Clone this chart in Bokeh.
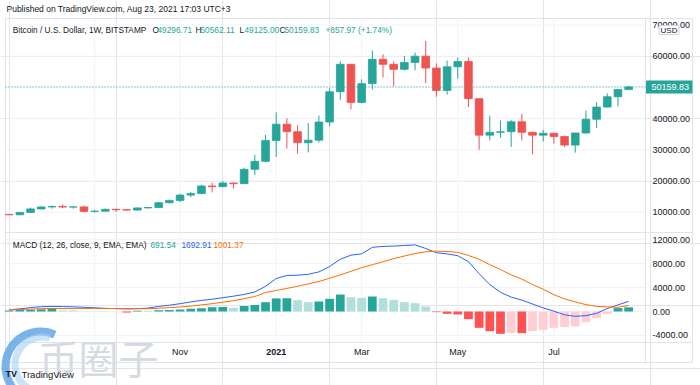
from bokeh.plotting import figure
from bokeh.models import ColumnDataSource, Range1d, Label
from bokeh.core.properties import value
from bokeh.embed import file_html
from bokeh.resources import INLINE

# ---------------- data (weekly BTC/USD, Bitstamp) ----------------
weeks = ["2020-07-13", "2020-07-20", "2020-07-27", "2020-08-03", "2020-08-10", "2020-08-17",
         "2020-08-24", "2020-08-31", "2020-09-07", "2020-09-14", "2020-09-21", "2020-09-28",
         "2020-10-05", "2020-10-12", "2020-10-19", "2020-10-26", "2020-11-02", "2020-11-09",
         "2020-11-16", "2020-11-23", "2020-11-30", "2020-12-07", "2020-12-14", "2020-12-21",
         "2020-12-28", "2021-01-04", "2021-01-11", "2021-01-18", "2021-01-25", "2021-02-01",
         "2021-02-08", "2021-02-15", "2021-02-22", "2021-03-01", "2021-03-08", "2021-03-15",
         "2021-03-22", "2021-03-29", "2021-04-05", "2021-04-12", "2021-04-19", "2021-04-26",
         "2021-05-03", "2021-05-10", "2021-05-17", "2021-05-24", "2021-05-31", "2021-06-07",
         "2021-06-14", "2021-06-21", "2021-06-28", "2021-07-05", "2021-07-12", "2021-07-19",
         "2021-07-26", "2021-08-02", "2021-08-09", "2021-08-16", "2021-08-23"]

opens = [9300, 9160, 9930, 11050, 11680, 11850, 11650, 11700, 10250, 10320, 10930, 10780,
         10670, 11380, 11500, 13040, 13780, 15480, 15970, 18400, 18190, 19370, 19150, 23730,
         26300, 33000, 38200, 35800, 32280, 33100, 38900, 48600, 57400, 45200, 51200, 59000,
         57400, 55800, 58000, 60000, 56200, 49000, 56600, 58300, 46400, 34700, 35600, 35800,
         39000, 35600, 34700, 35300, 34250, 31500, 35400, 39800, 43700, 47000, 49296.71]
highs = [9340, 9990, 11500, 11910, 12090, 12480, 11780, 12080, 10790, 11180, 11090, 10960,
         11500, 11730, 13350, 14080, 15970, 16480, 18800, 19490, 19920, 19420, 24300, 28400,
         34800, 42000, 40100, 37900, 38600, 40950, 49700, 58350, 57500, 52600, 61800, 60600,
         58400, 60100, 61200, 64900, 57700, 58600, 59600, 59600, 46500, 40900, 39400, 39500,
         41500, 35800, 36400, 35400, 34600, 35400, 42600, 45200, 48100, 49400, 50562.11]
lows = [9050, 9130, 9880, 10950, 11130, 11290, 11120, 9880, 9880, 10220, 10140, 10420,
        10550, 11210, 11420, 12800, 13220, 14850, 15800, 16330, 18000, 17600, 19000, 21900,
        26100, 27700, 30400, 28800, 29200, 32300, 37500, 46000, 43000, 44900, 49300, 53200,
        50400, 55400, 55500, 51300, 47000, 47700, 52800, 43700, 30000, 33000, 33900, 30900,
        33000, 28500, 32700, 32000, 30900, 29100, 35200, 37000, 43600, 43900, 49125.00]
closes = [9160, 9930, 11050, 11680, 11850, 11650, 11700, 10250, 10320, 10930, 10780, 10670,
          11380, 11500, 13040, 13780, 15480, 15970, 18400, 18190, 19370, 19150, 23730, 26300,
          33000, 38200, 35800, 32280, 33100, 38900, 48600, 57400, 45200, 51200, 59000, 57400,
          55800, 58000, 60000, 56200, 49000, 56600, 58300, 46400, 34700, 35600, 35800, 39000,
          35600, 34700, 35300, 34250, 31500, 35400, 39800, 43700, 47000, 49301.86, 50159.83]

macd_line = [280, 450, 650, 800, 850, 820, 780, 700, 620, 520, 480, 430, 480, 560, 850, 1050,
             1300, 1600, 1850, 2050, 2300, 2550, 2850, 3250, 4200, 5500, 6000, 6050, 6200, 6600,
             7500, 8700, 9400, 9600, 10700, 10850, 10900, 11000, 11100, 10500, 9800, 9600, 9300,
             8300, 6300, 4500, 3200, 2400, 1900, 1250, 600, 50, -550, -800, -700, -300, 500,
             1100, 1692.91]
signal_line = [280, 330, 400, 470, 500, 500, 510, 520, 520, 510, 490, 470, 460, 470, 540, 650,
               750, 900, 1100, 1300, 1550, 1800, 2150, 2500, 3150, 3500, 3850, 4200, 4600, 5000,
               5550, 6100, 6700, 7300, 7800, 8300, 8800, 9250, 9650, 9950, 10050, 10000, 9850,
               9350, 8700, 7800, 7000, 6100, 5400, 4500, 3700, 2800, 2100, 1600, 1150, 850, 760,
               700, 1001.37]
histogram = [150, 250, 300, 380, 400, 170, 150, 60, 40, 30, 20, -150, 130, 110, 220, 240, 330,
             450, 560, 720, 740, 640, 900, 1100, 1550, 2180, 2210, 1890, 1560, 1670, 2110, 2830,
             2390, 2280, 2500, 2220, 1940, 1560, 1390, 830, -110, -390, -500, -1280, -2720,
             -3280, -3720, -3560, -3610, -3280, -3060, -2720, -2610, -2500, -1780, -1110, -390,
             560, 691.54]

price_ticks = [10000, 20000, 30000, 40000, 50000, 60000, 70000]
macd_ticks = [-4000, 0, 4000, 8000, 12000]
tick_weeks = ["2020-09-07", "2020-11-02", "2021-01-04", "2021-03-01", "2021-05-03", "2021-07-05"]
tick_labels = ["", "Nov", "2021", "Mar", "May", "Jul"]

# ---------------- styling / layout constants ----------------
UP = "#26a69a"
DOWN = "#ef5350"
H_UP_STRONG, H_UP_WEAK = "#26a69a", "#b2dfdb"
H_DN_WEAK, H_DN_STRONG = "#ffcdd2", "#ff5252"
BLUE, ORANGE = "#2962ff", "#ff6d00"
GRID = "#f0f3fa"
BORDER = "#e0e3eb"
TXT = "#131722"
FONT = "Liberation Sans"

W, H = 700, 385
PX_PER = 10.68      # pixels per weekly bar
FIRST = 8.7         # pixel x of the first bar
L_EDGE, AX_EDGE, R_EDGE = 5, 645, 692
TOP, SEP, M_BOT, BOT = 18, 232, 342, 362
X0 = -FIRST / PX_PER
X1 = X0 + W / PX_PER


def X(px):          # pixel x -> bar index units
    return X0 + px / PX_PER


def PY(py):         # pixel y -> price (price pane scale)
    return 60000 - (py - 55.7) * 320.5


def MY(py):         # pixel y -> MACD value (indicator pane scale)
    return (311 - py) * 166.67


xs = list(range(len(weeks)))
tick_pos = [weeks.index(w) for w in tick_weeks]

colors = [UP if c >= o else DOWN for o, c in zip(opens, closes)]
src = ColumnDataSource(dict(x=xs, o=opens, h=highs, l=lows, c=closes, color=colors,
                            top=[max(o, c) for o, c in zip(opens, closes)],
                            bot=[min(o, c) for o, c in zip(opens, closes)]))
hcol = []
for i, v in enumerate(histogram):
    prev = histogram[i - 1] if i > 0 else v - 1
    if v >= 0:
        hcol.append(H_UP_STRONG if v > prev else H_UP_WEAK)
    else:
        hcol.append(H_DN_WEAK if v > prev else H_DN_STRONG)
msrc = ColumnDataSource(dict(x=xs, macd=macd_line, sig=signal_line, hist=histogram, hc=hcol))

p = figure(width=W, height=H, x_range=Range1d(X0, X1), y_range=Range1d(PY(H), PY(0)),
           output_backend="svg", toolbar_location=None, x_axis_location=None,
           y_axis_location=None, min_border=0, min_border_left=0, min_border_right=0,
           min_border_top=0, min_border_bottom=0)
p.outline_line_color = None
p.background_fill_color = "white"
p.border_fill_color = "white"
p.extra_y_ranges = {"macd": Range1d(MY(H), MY(0))}

# ---- grid lines (from the tick lists) ----
p.segment(x0=[X(L_EDGE)] * len(price_ticks), x1=[X(AX_EDGE)] * len(price_ticks),
          y0=price_ticks, y1=price_ticks, line_color=GRID, line_width=1)
p.segment(x0=[X(L_EDGE)] * len(macd_ticks), x1=[X(AX_EDGE)] * len(macd_ticks),
          y0=macd_ticks, y1=macd_ticks, line_color=GRID, line_width=1, y_range_name="macd")
p.segment(x0=tick_pos, x1=tick_pos, y0=[PY(TOP)] * len(tick_pos),
          y1=[PY(M_BOT)] * len(tick_pos), line_color=GRID, line_width=1)

# ---- pane borders ----
bx0 = [L_EDGE, L_EDGE, R_EDGE, L_EDGE, L_EDGE, L_EDGE, AX_EDGE]
bx1 = [R_EDGE, L_EDGE, R_EDGE, R_EDGE, R_EDGE, R_EDGE, AX_EDGE]
by0 = [TOP, TOP, TOP, BOT, SEP, M_BOT, TOP]
by1 = [TOP, BOT, BOT, BOT, SEP, M_BOT, BOT]
p.segment(x0=[X(v) for v in bx0], x1=[X(v) for v in bx1], y0=[PY(v) for v in by0],
          y1=[PY(v) for v in by1], line_color=BORDER, line_width=1)

# ---- candles ----
p.segment(x0="x", y0="l", x1="x", y1="h", color="color", line_width=1, source=src)
p.vbar(x="x", width=0.72, top="top", bottom="bot", fill_color="color", line_color="color",
       line_width=0.8, source=src)
# last price dotted line
p.segment(x0=[X(L_EDGE)], x1=[X(AX_EDGE)], y0=[closes[-1]], y1=[closes[-1]], line_color=UP,
          line_dash="1 2", line_width=1)

# ---- MACD ----
p.vbar(x="x", width=0.82, top="hist", bottom=0, fill_color="hc", line_color=None, source=msrc,
       y_range_name="macd")
p.line(x="x", y="macd", color=BLUE, line_width=1, source=msrc, y_range_name="macd")
p.line(x="x", y="sig", color=ORANGE, line_width=1, source=msrc, y_range_name="macd")

# ---- axis labels ----
AXF = dict(text_font=value(FONT), text_font_size="9px", text_color=TXT, text_baseline="middle")
p.text(x=[X(652)] * len(price_ticks), y=price_ticks, text=["%.2f" % t for t in price_ticks],
       text_align="left", **AXF)
p.text(x=[X(652)] * len(macd_ticks), y=macd_ticks, text=["%.2f" % t for t in macd_ticks],
       text_align="left", y_range_name="macd", **AXF)
norm = [(tp, t) for tp, t in zip(tick_pos, tick_labels) if t and not t.isdigit()]
bold = [(tp, t) for tp, t in zip(tick_pos, tick_labels) if t.isdigit()]
p.text(x=[a for a, _ in norm], y=[PY(351.5)] * len(norm), text=[b for _, b in norm],
       text_align="center", **AXF)
p.text(x=[a for a, _ in bold], y=[PY(351.5)] * len(bold), text=[b for _, b in bold],
       text_align="center", text_font_style="bold", **AXF)

# last price tag and currency tag on the price axis
p.quad(left=[X(AX_EDGE + 0.5)], right=[X(R_EDGE)], top=[closes[-1] + 6.5 * 320.5],
       bottom=[closes[-1] - 6.5 * 320.5], fill_color=UP, line_color=None)
p.text(x=[X(651)], y=[closes[-1]], text=["%.2f" % closes[-1]], text_align="left",
       text_font=value(FONT), text_font_size="9px", text_color="white", text_baseline="middle")
p.quad(left=[X(658.5)], right=[X(678.5)], top=[PY(25)], bottom=[PY(34)], fill_color="white",
       line_color="#d1d4dc", line_width=1)
p.text(x=[X(668.5)], y=[PY(29.5)], text=["USD"], text_align="center", text_font=value(FONT),
       text_font_size="8px", text_color=TXT, text_baseline="middle")


def lab(x, y, text, color=TXT, size="8.3px", style="normal", align="left", font=FONT, **kw):
    p.add_layout(Label(x=x, y=y, text=text, text_color=color, text_font=font,
                       text_font_size=size, text_font_style=style, text_align=align,
                       text_baseline="middle", **kw))


# ---- header and legends ----
lab(X(6), PY(8.5), "Published on TradingView.com, Aug 23, 2021 17:03 UTC+3", size="8.5px")
ly = PY(29)
lab(X(12.3), ly, "Bitcoin / U.S. Dollar, 1W, BITSTAMP")
for letter, lx, val, vx in [("O", 152, opens[-1], 157), ("H", 195, highs[-1], 200),
                            ("L", 239, lows[-1], 244), ("C", 279, closes[-1], 284)]:
    lab(X(lx), ly, letter)
    lab(X(vx), ly, "%.2f" % val, color=UP)
chg = closes[-1] - closes[-2]
lab(X(325), ly, "+%.2f (+%.2f%%)" % (chg, chg / closes[-2] * 100), color=UP)

my = PY(244.5)
lab(X(12.3), my, "MACD (12, 26, close, 9, EMA, EMA)")
lab(X(150), my, "%.2f" % histogram[-1], color=UP)
lab(X(181), my, "%.2f" % macd_line[-1], color=BLUE)
lab(X(213), my, "%.2f" % signal_line[-1], color=ORANGE)

# ---- watermark and logo ----
p.annular_wedge(x=[X(40)], y=[PY(366)], inner_radius=31, outer_radius=39,
                inner_radius_units="screen", outer_radius_units="screen",
                start_angle=1.15, end_angle=4.6, fill_color="#4d9be0", fill_alpha=0.75,
                line_color=None)
p.annular_wedge(x=[X(42)], y=[PY(364)], inner_radius=24, outer_radius=31,
                inner_radius_units="screen", outer_radius_units="screen",
                start_angle=1.3, end_angle=4.4, fill_color="#a8d1f2", fill_alpha=0.6,
                line_color=None)
p.text(x=[X(38)], y=[PY(356)], text=["币圈子"], text_align="left", text_baseline="middle",
       text_font=value("Noto Sans CJK SC"), text_font_size="40px", text_color="#d6dbe2")
lab(X(5), PY(373.5), "TV", style="bold", size="9px")
lab(X(21), PY(373.5), "TradingView", color=TXT, size="9.5px")

open("out.html", "w").write(file_html(p, INLINE))
